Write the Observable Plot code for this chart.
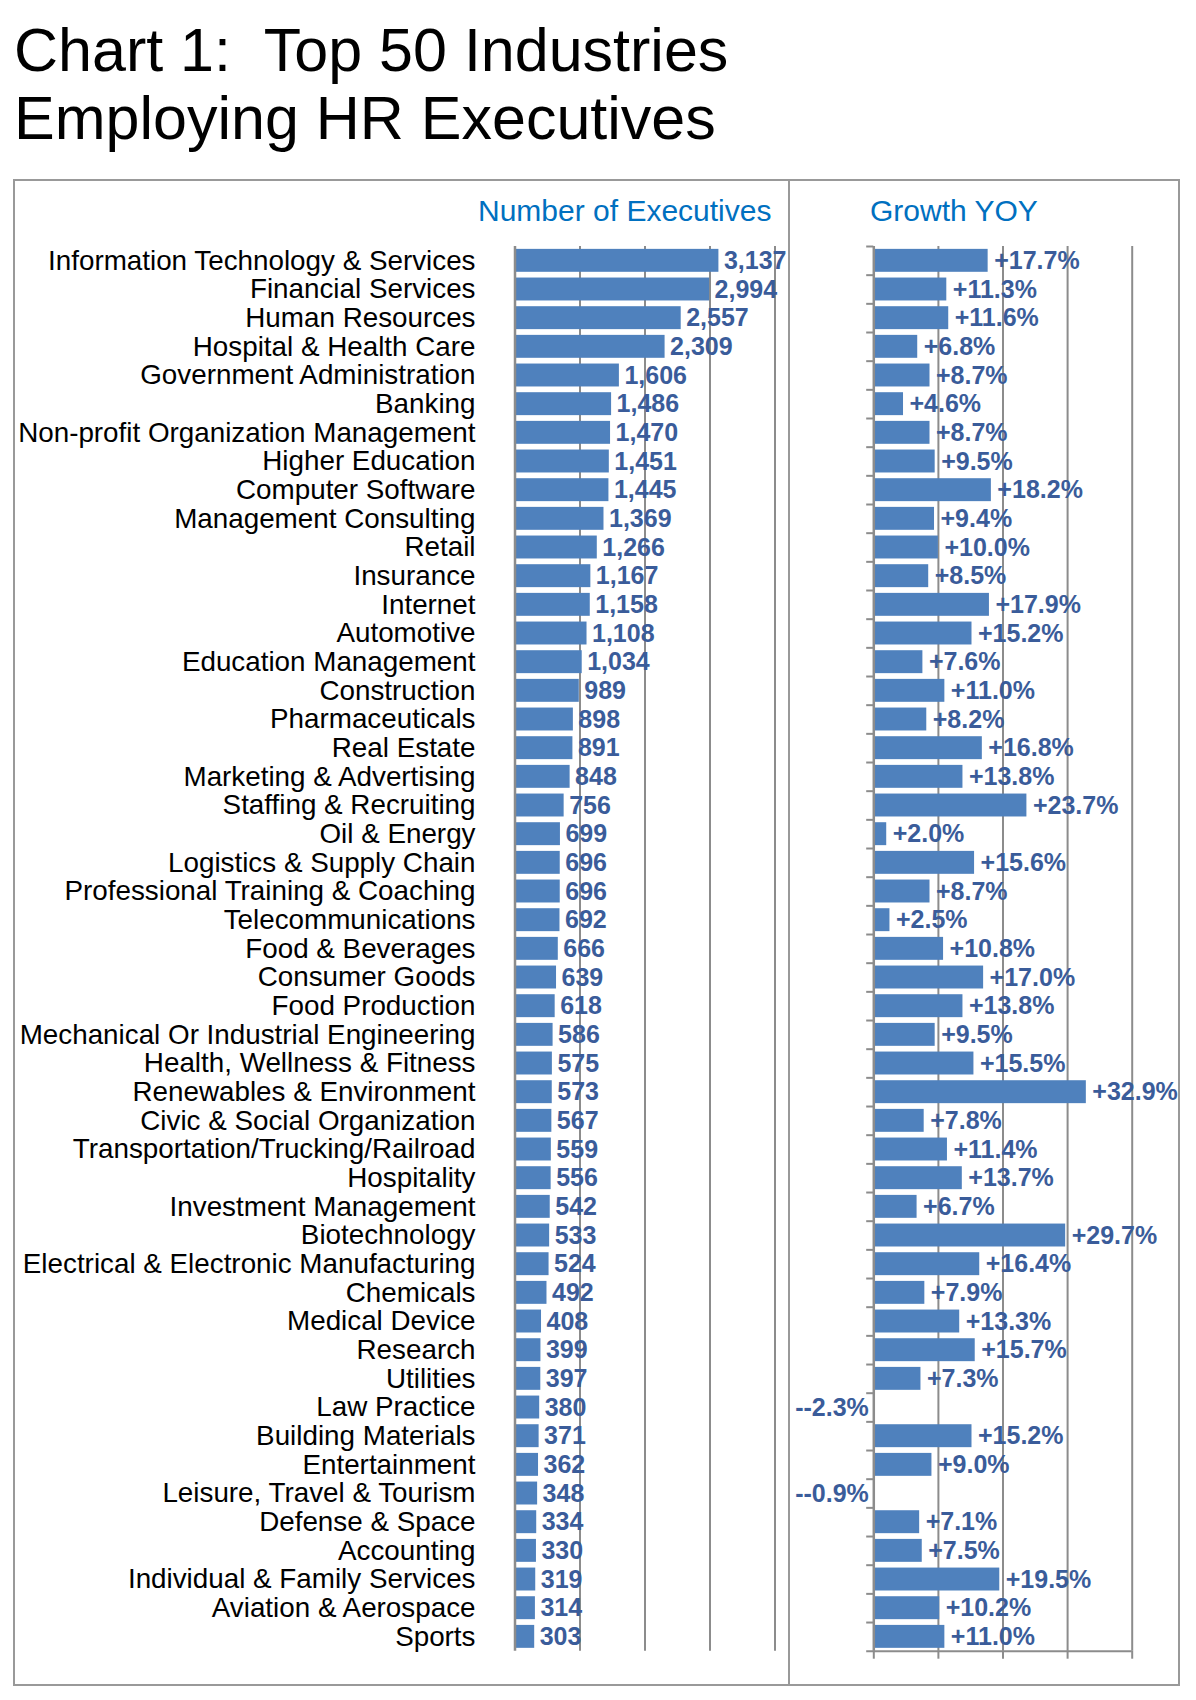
<!DOCTYPE html>
<html><head><meta charset="utf-8">
<script src="https://cdn.jsdelivr.net/npm/d3@7"></script>
<script src="https://cdn.jsdelivr.net/npm/@observablehq/plot@0.6"></script>
<style>
body{margin:0;background:#fff;font-family:"Liberation Sans",Arial,sans-serif;}
#page{position:relative;width:1196px;height:1700px;overflow:hidden;}
#title{position:absolute;left:14px;top:16px;font-size:61px;line-height:68px;color:#000;white-space:nowrap;}
#frame{position:absolute;left:13px;top:179px;width:1167px;height:1507px;border:2px solid #999;box-sizing:border-box;}
#divider{position:absolute;left:788px;top:179px;width:2px;height:1507px;background:#999;}
.ptitle{position:absolute;font-size:30px;line-height:34px;color:#0070C0;white-space:nowrap;}
.plot{position:absolute;top:179px;}
.plot svg{overflow:visible;}
</style>
</head><body>
<div id="page">
  <div id="title">Chart 1:&nbsp; Top 50 Industries<br>Employing HR Executives</div>
  <div id="frame"></div>
  <div id="divider"></div>
  <div class="ptitle" style="left:478px;top:194px;">Number of Executives</div>
  <div class="ptitle" style="left:870px;top:194px;">Growth YOY</div>
  <div id="left" class="plot" style="left:13px;"></div>
  <div id="right" class="plot" style="left:789px;"></div>
</div>
<script>
const industries = [
  "Information Technology & Services","Financial Services","Human Resources","Hospital & Health Care",
  "Government Administration","Banking","Non-profit Organization Management","Higher Education",
  "Computer Software","Management Consulting","Retail","Insurance","Internet","Automotive",
  "Education Management","Construction","Pharmaceuticals","Real Estate","Marketing & Advertising",
  "Staffing & Recruiting","Oil & Energy","Logistics & Supply Chain","Professional Training & Coaching",
  "Telecommunications","Food & Beverages","Consumer Goods","Food Production",
  "Mechanical Or Industrial Engineering","Health, Wellness & Fitness","Renewables & Environment",
  "Civic & Social Organization","Transportation/Trucking/Railroad","Hospitality","Investment Management",
  "Biotechnology","Electrical & Electronic Manufacturing","Chemicals","Medical Device","Research",
  "Utilities","Law Practice","Building Materials","Entertainment","Leisure, Travel & Tourism",
  "Defense & Space","Accounting","Individual & Family Services","Aviation & Aerospace","Sports"
];
const executives = [3137,2994,2557,2309,1606,1486,1470,1451,1445,1369,1266,1167,1158,1108,1034,989,898,891,848,756,
  699,696,696,692,666,639,618,586,575,573,567,559,556,542,533,524,492,408,399,397,380,371,362,348,334,330,319,314,303];
const growth = [17.7,11.3,11.6,6.8,8.7,4.6,8.7,9.5,18.2,9.4,10.0,8.5,17.9,15.2,7.6,11.0,8.2,16.8,13.8,23.7,
  2.0,15.6,8.7,2.5,10.8,17.0,13.8,9.5,15.5,32.9,7.8,11.4,13.7,6.7,29.7,16.4,7.9,13.3,15.7,7.3,
  -2.3,15.2,9.0,-0.9,7.1,7.5,19.5,10.2,11.0];
const execTicks = [1000,2000,3000,4000];
const growthTicks = [10,20,30,40];

const data = industries.map((industry,i)=>({industry, executives: executives[i], growth: growth[i]}));

const BAR = "#4F81BD", LBL = "#3A5C9A", GRID = "#8c8c8c";
const FONT = "'Liberation Sans', Arial, sans-serif";
const H = 1507, MT = 67, MB = 35.3;
const step = (H - MT - MB) / industries.length;

const left = Plot.plot({
  width: 776, height: H,
  marginLeft: 501.5, marginRight: 14.5, marginTop: MT, marginBottom: MB,
  style: {fontFamily: FONT, fontSize: "27.8px", color: "#000", background: "transparent", overflow: "visible"},
  x: {domain: [0, 4000], axis: null},
  y: {domain: industries, paddingInner: 0.2, paddingOuter: 0.1, axis: null},
  marks: [
    Plot.gridX(execTicks, {stroke: GRID, strokeOpacity: 1, strokeWidth: 2}),
    Plot.barX(data, {x: "executives", y: "industry", fill: BAR}),
    Plot.ruleX([0], {stroke: GRID, strokeWidth: 2.5}),
    Plot.text(data, {x: "executives", y: "industry", text: d => d3.format(",")(d.executives),
      dx: 5, textAnchor: "start", fontSize: 25, fontWeight: "bold", fill: LBL}),
    Plot.axisY({tickSize: 0, tickPadding: 39.5, fontSize: 27.8, fill: "#000", label: null})
  ]
});
document.getElementById("left").appendChild(left);

const fmt = d => (d >= 0 ? "+" : "-") + d.toFixed(1) + "%";
const right = Plot.plot({
  width: 387, height: H,
  marginLeft: 84.3, marginRight: 44.3, marginTop: MT, marginBottom: MB,
  style: {fontFamily: FONT, fontSize: "25px", color: "#000", background: "transparent", overflow: "visible"},
  x: {domain: [0, 40], axis: null},
  y: {domain: industries, paddingInner: 0.2, paddingOuter: 0.1, axis: null},
  marks: [
    Plot.gridX(growthTicks, {stroke: GRID, strokeOpacity: 1, strokeWidth: 2}),
    Plot.barX(data, {x: "growth", y: "industry", fill: BAR, clip: true}),
    Plot.ruleX([0], {stroke: GRID, strokeWidth: 2.5}),
    Plot.ruleY(industries, {y: d => d, x1: -1.1, x2: 0, dy: -step/2, stroke: GRID, strokeWidth: 2}),
    Plot.ruleY(industries.slice(-1), {y: d => d, x1: -1.1, x2: 40, dy: step/2, stroke: GRID, strokeWidth: 2}),
    Plot.axisX([0, ...growthTicks], {tickSize: 8, tickFormat: () => "", stroke: GRID, strokeWidth: 2, label: null}),
    Plot.text(data, {filter: d => d.growth >= 0, x: "growth", y: "industry", text: d => fmt(d.growth),
      dx: 6, textAnchor: "start", fontSize: 25, fontWeight: "bold", fill: LBL}),
    Plot.text(data, {filter: d => d.growth < 0, x: 0, y: "industry", text: d => fmt(d.growth),
      dx: -5, textAnchor: "end", fontSize: 25, fontWeight: "bold", fill: LBL})
  ]
});
document.getElementById("right").appendChild(right);
</script>
</body></html>
